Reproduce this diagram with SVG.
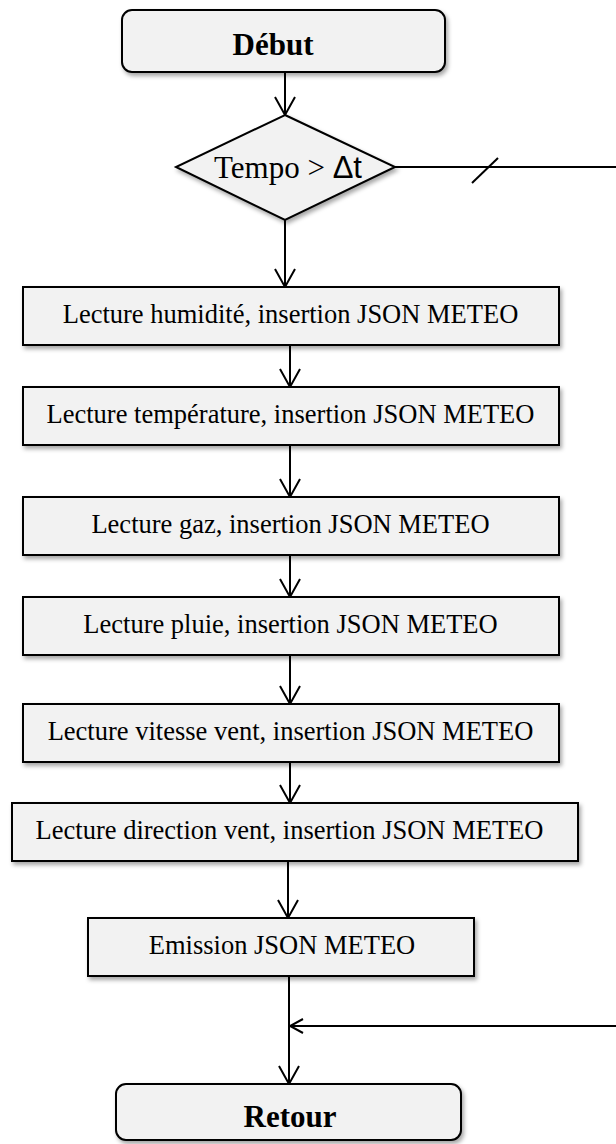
<svg xmlns="http://www.w3.org/2000/svg" width="616" height="1144" viewBox="0 0 616 1144">
  <defs>
    <filter id="shadow" x="-10%" y="-20%" width="125%" height="160%">
      <feDropShadow dx="2" dy="3" stdDeviation="2" flood-color="#000" flood-opacity="0.35"/>
    </filter>
    <marker id="arrow" viewBox="0 0 22 22" refX="19" refY="11" markerWidth="22" markerHeight="22" markerUnits="userSpaceOnUse" orient="auto">
      <path d="M1,1 L19,11 L1,21" fill="none" stroke="#000" stroke-width="2"/>
    </marker>
    <marker id="arrowSmall" viewBox="0 0 16 16" refX="14" refY="8" markerWidth="16" markerHeight="16" markerUnits="userSpaceOnUse" orient="auto">
      <path d="M1,1 L14,8 L1,15" fill="none" stroke="#000" stroke-width="2"/>
    </marker>
  </defs>
  <style>
    .shape { fill: #f2f2f2; stroke: #000; stroke-width: 2; filter: url(#shadow); }
    .label { font-family: "Liberation Serif", "Times New Roman", serif; font-size: 26.5px; fill: #000; text-anchor: middle; }
    .term { font-family: "Liberation Serif", "Times New Roman", serif; font-size: 31px; font-weight: bold; fill: #000; text-anchor: middle; }
    .cond { font-family: "Liberation Serif", "Times New Roman", serif; font-size: 31px; fill: #000; text-anchor: middle; }
    .sans { font-family: "Liberation Sans", Arial, sans-serif; }
    .wire { fill: none; stroke: #000; stroke-width: 2; }
  </style>

  <rect width="616" height="1144" fill="#fff"/>

  <!-- connectors -->
  <g id="connectors">
    <path class="wire" d="M285,72 L285,115" marker-end="url(#arrow)"/>
    <path class="wire" d="M285,220 L285,287" marker-end="url(#arrow)"/>
    <path class="wire" d="M290,345 L290,387" marker-end="url(#arrow)"/>
    <path class="wire" d="M290,445 L290,497" marker-end="url(#arrow)"/>
    <path class="wire" d="M290,555 L290,597" marker-end="url(#arrow)"/>
    <path class="wire" d="M290,655 L290,704" marker-end="url(#arrow)"/>
    <path class="wire" d="M290,762 L290,803" marker-end="url(#arrow)"/>
    <path class="wire" d="M288,861 L288,918" marker-end="url(#arrow)"/>
    <path class="wire" d="M289,976 L289,1084" marker-end="url(#arrow)"/>
    <!-- condition false branch, leaves to the right and comes back before Retour -->
    <path class="wire" d="M395,167 L616,167"/>
    <path class="wire" d="M472,183 L498,158"/>
    <path class="wire" d="M616,1026 L290,1026" marker-end="url(#arrowSmall)"/>
  </g>

  <g id="debut">
    <rect class="shape" x="122" y="10" width="323" height="62" rx="10"/>
    <text class="term" x="273" y="55">Début</text>
  </g>

  <g id="tempo">
    <polygon class="shape" points="285,115 395,167 285,220 176,167"/>
    <text class="cond" x="288" y="178">Tempo &gt; <tspan class="sans">Δt</tspan></text>
  </g>

  <g id="humidite">
    <rect class="shape" x="23" y="287" width="536" height="58"/>
    <text class="label" x="290.5" y="323">Lecture humidité, insertion JSON METEO</text>
  </g>

  <g id="temperature">
    <rect class="shape" x="23" y="387" width="536" height="58"/>
    <text class="label" x="290.5" y="423">Lecture température, insertion JSON METEO</text>
  </g>

  <g id="gaz">
    <rect class="shape" x="23" y="497" width="536" height="58"/>
    <text class="label" x="290.5" y="533">Lecture gaz, insertion JSON METEO</text>
  </g>

  <g id="pluie">
    <rect class="shape" x="23" y="597" width="536" height="58"/>
    <text class="label" x="290.5" y="633">Lecture pluie, insertion JSON METEO</text>
  </g>

  <g id="vitesse">
    <rect class="shape" x="23" y="704" width="536" height="58"/>
    <text class="label" x="290.5" y="740">Lecture vitesse vent, insertion JSON METEO</text>
  </g>

  <g id="direction">
    <rect class="shape" x="12" y="803" width="566" height="58"/>
    <text class="label" x="289.5" y="839">Lecture direction vent, insertion JSON METEO</text>
  </g>

  <g id="emission">
    <rect class="shape" x="88" y="918" width="386" height="58"/>
    <text class="label" x="282" y="954">Emission JSON METEO</text>
  </g>

  <g id="retour">
    <rect class="shape" x="116" y="1084" width="345" height="56" rx="10"/>
    <text class="term" x="290" y="1127">Retour</text>
  </g>
</svg>
